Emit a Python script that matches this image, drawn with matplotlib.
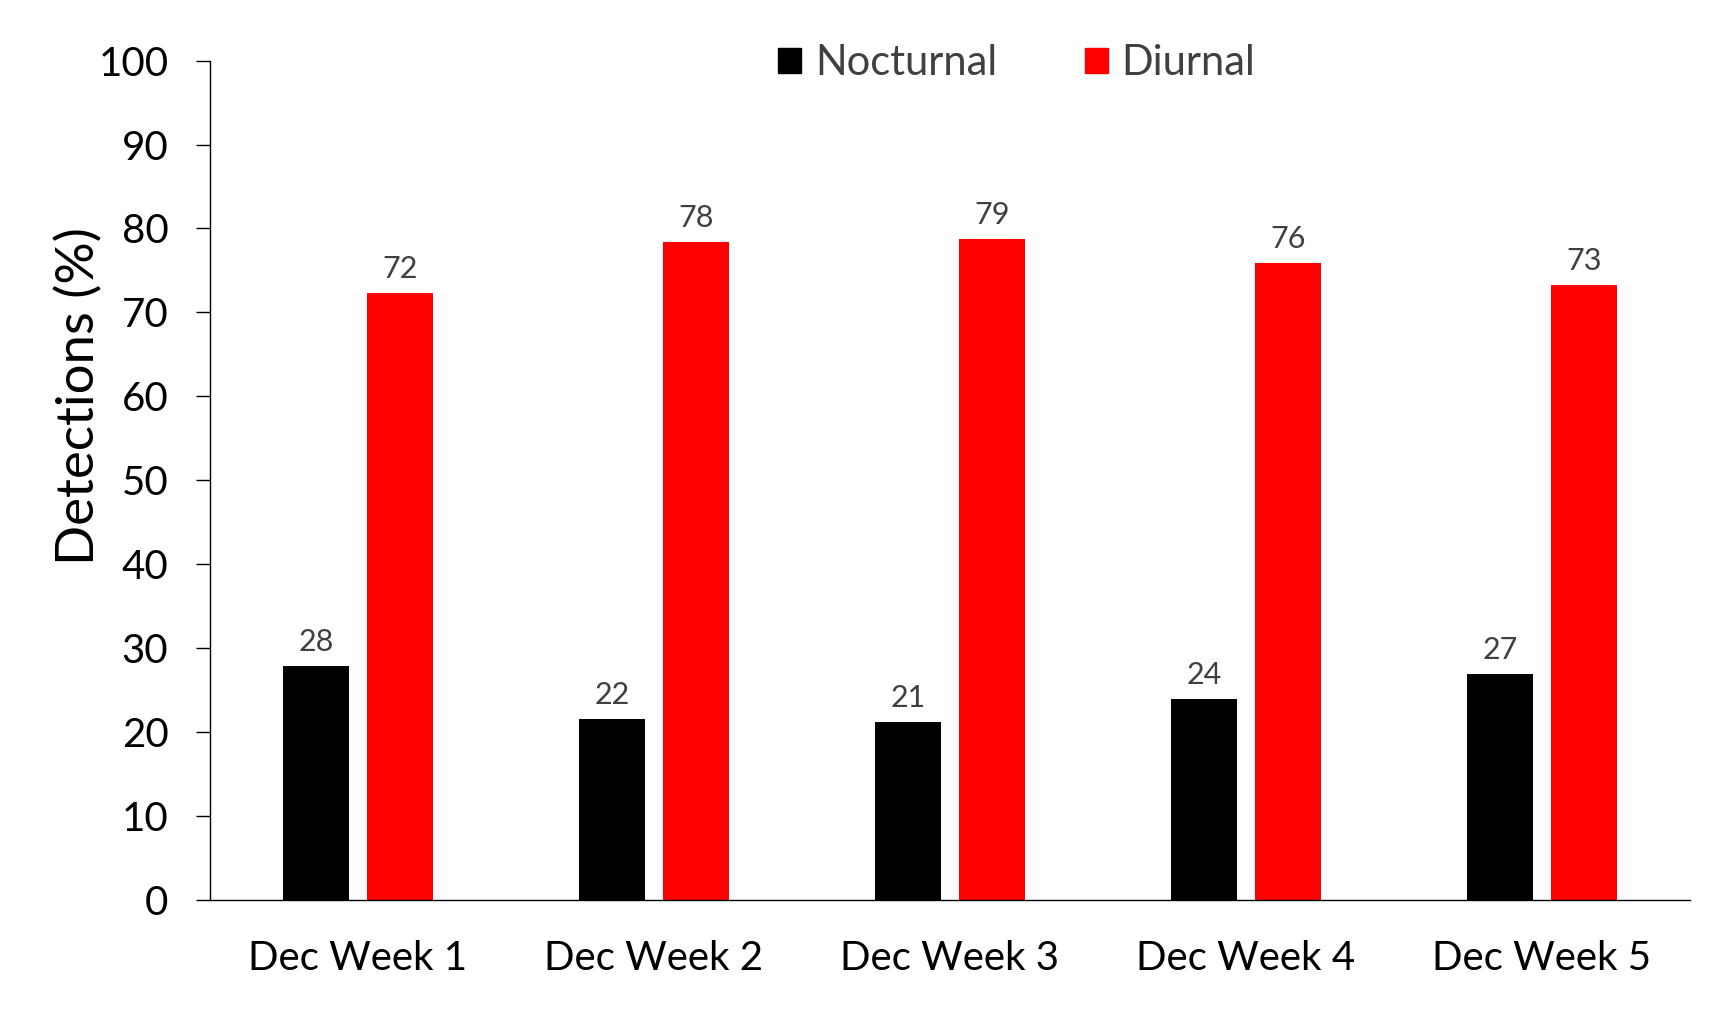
import numpy as np
import matplotlib
matplotlib.use("Agg")
import matplotlib.pyplot as plt
from matplotlib.patches import Patch

plt.rcParams['font.family'] = ['Lato', 'DejaVu Sans']

### data
weeks = ["Dec Week 1", "Dec Week 2", "Dec Week 3", "Dec Week 4", "Dec Week 5"]
nocturnal = [27.9, 21.6, 21.2, 24.0, 26.9]
diurnal = [72.3, 78.4, 78.8, 75.9, 73.3]

### figure
fig = plt.figure(figsize=(17.29, 10.33), dpi=100)
ax = fig.add_axes([0.1215, 0.1288, 0.8559, 0.8125])

x = np.arange(len(weeks))
w = 0.223
off = 0.141
b1 = ax.bar(x - off, nocturnal, w, color='black')
b2 = ax.bar(x + off, diurnal, w, color='#ff0000')

# value labels
for bars, vals in [(b1, nocturnal), (b2, diurnal)]:
    for r, v in zip(bars, vals):
        ax.annotate('%d' % round(v), (r.get_x() + r.get_width() / 2, v),
                    xytext=(0, 7), textcoords='offset points',
                    ha='center', va='bottom', fontsize=22, color='#404040')

ax.set_xlim(-0.5, 4.5)
ax.set_ylim(0, 100)
ax.set_yticks(np.arange(0, 101, 10))
ax.set_xticks(x)
ax.set_xticklabels(weeks, fontsize=29)
ax.tick_params(axis='x', length=0, pad=29)
ax.tick_params(axis='y', labelsize=29, length=10, width=1, pad=20)
for s in ['top', 'right']:
    ax.spines[s].set_visible(False)
ax.spines['left'].set_linewidth(1)
ax.spines['bottom'].set_linewidth(1)

ax.set_ylabel('Detections (%)', fontsize=38)
ax.yaxis.set_label_coords(-0.072, 0.6)

# legend
handles = [Patch(color='black', label='Nocturnal'), Patch(color='#ff0000', label='Diurnal')]
leg = fig.legend(handles=handles, loc='center', bbox_to_anchor=(0.588, 0.939), ncol=2,
                 frameon=False, fontsize=30, handlelength=0.55, handleheight=0.55,
                 handletextpad=0.33, columnspacing=2.1, labelcolor='#404040')

fig.savefig('out.png', dpi=100)
